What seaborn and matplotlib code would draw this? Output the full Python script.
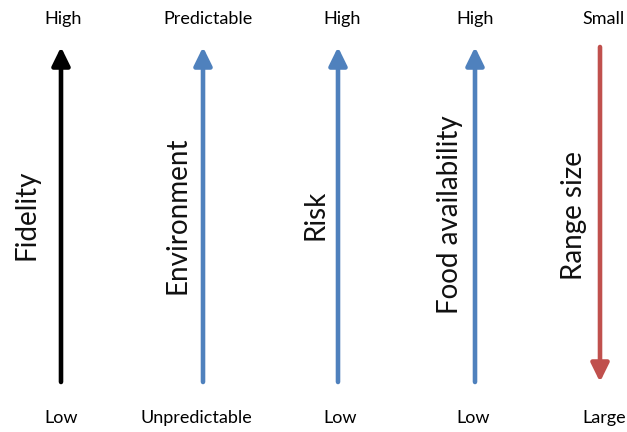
import numpy as np
import pandas as pd
import matplotlib
matplotlib.use("Agg")
import matplotlib.pyplot as plt
import seaborn as sns

# the five axes of the concept diagram
names = ["Fidelity", "Environment", "Risk", "Food availability", "Range size"]
top_labels = ["High", "Predictable", "High", "High", "Small"]
bottom_labels = ["Low", "Unpredictable", "Low", "Low", "Large"]
points_up = [True, True, True, True, False]
colours = ["#000000", "#4F81BD", "#4F81BD", "#4F81BD", "#C0504D"]

# layout in pixel coords (y from top)
xpos = [61, 203, 338, 475, 600]
top_x = [63, 208, 342, 475, 604]
bot_x = [61, 196, 340, 473, 604]
name_x = [27, 178, 315, 450, 574]
y_top, y_bot = 47, 382

d = pd.DataFrame({"name": names, "top": top_labels, "bottom": bottom_labels,
                  "up": points_up, "colour": colours, "x": xpos, "nx": name_x,
                  "tx": top_x, "bx": bot_x})

sns.set_theme(style="white")
plt.rcParams['font.family'] = ['Lato', 'DejaVu Sans']

fig = plt.figure(figsize=(6.27, 4.32), dpi=100)
ax = fig.add_axes([0, 0, 1, 1])
ax.set_xlim(0, 627)
ax.set_ylim(432, 0)
ax.axis("off")

for _, r in d.iterrows():
    if r["up"]:
        start, end = y_bot, y_top
    else:
        start, end = y_top, y_bot
    ax.annotate("", xy=(r["x"], end), xytext=(r["x"], start),
                arrowprops=dict(arrowstyle="-|>,head_length=0.55,head_width=0.27",
                                mutation_scale=20, lw=3.3, color=r["colour"],
                                shrinkA=0, shrinkB=0))
    ax.text(r["tx"], 19, r["top"], ha="center", va="center", fontsize=13, color="black")
    ax.text(r["bx"], 418, r["bottom"], ha="center", va="center", fontsize=13, color="black")
    ax.text(r["nx"], 215, r["name"], rotation=90, ha="center", va="center",
            fontsize=20, color="#111111")

fig.savefig("out.png", dpi=100)
